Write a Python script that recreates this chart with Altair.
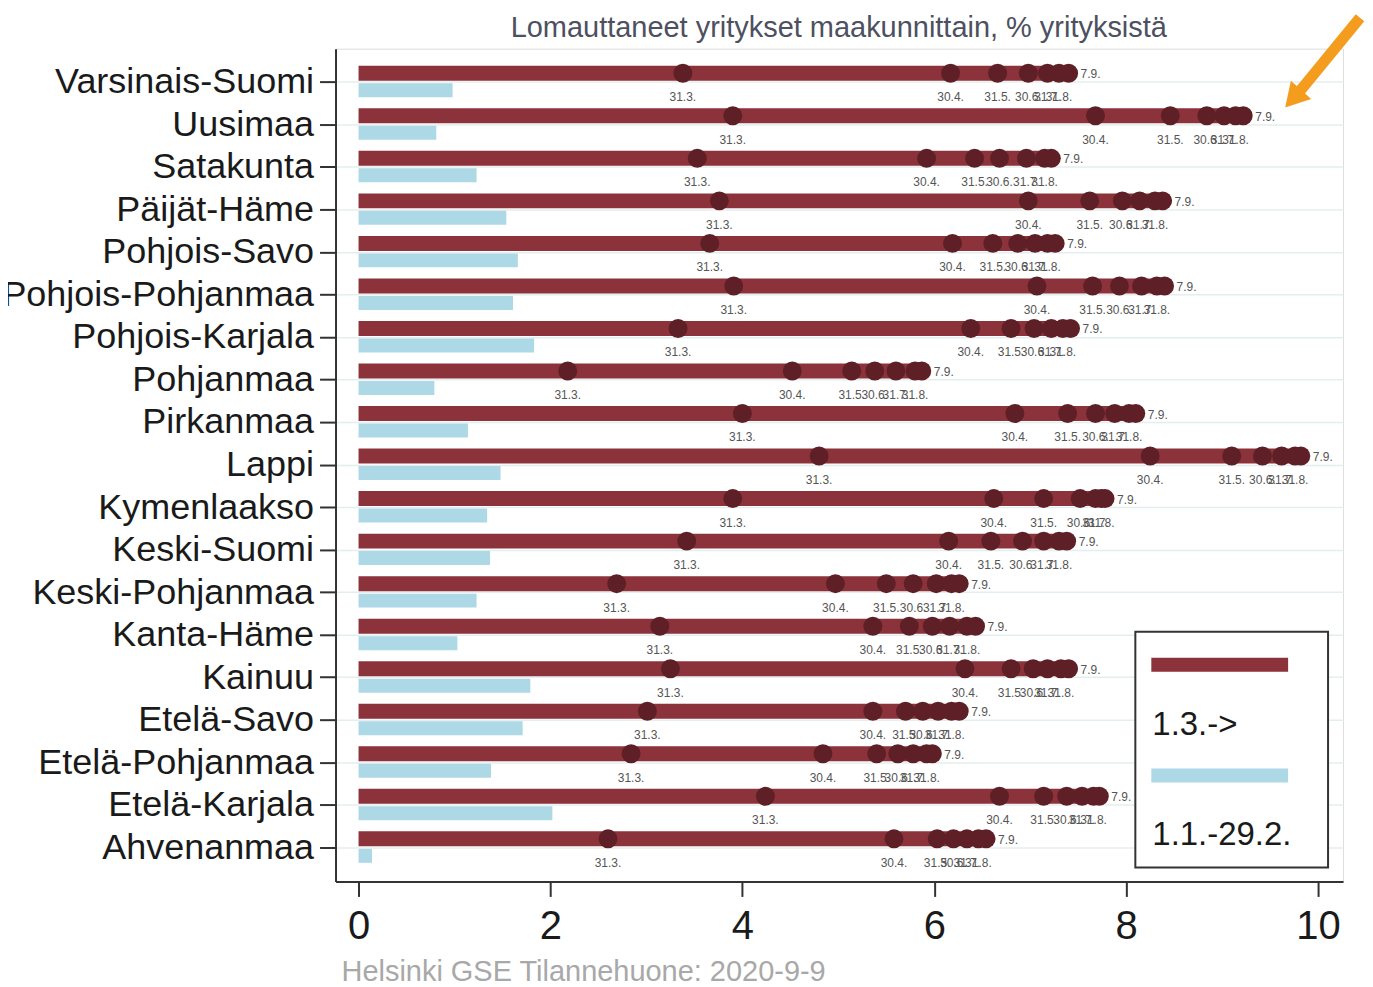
import altair as alt
import pandas as pd

regions = ["Varsinais-Suomi", "Uusimaa", "Satakunta", "Päijät-Häme", "Pohjois-Savo",
           "Pohjois-Pohjanmaa", "Pohjois-Karjala", "Pohjanmaa", "Pirkanmaa", "Lappi",
           "Kymenlaakso", "Keski-Suomi", "Keski-Pohjanmaa", "Kanta-Häme", "Kainuu",
           "Etelä-Savo", "Etelä-Pohjanmaa", "Etelä-Karjala", "Ahvenanmaa"]

dates = ["31.3.", "30.4.", "31.5.", "30.6.", "31.7.", "31.8.", "7.9."]

v_31_3 = [3.38, 3.90, 3.53, 3.76, 3.66, 3.91, 3.33, 2.18, 4.00, 4.80,
          3.90, 3.42, 2.69, 3.14, 3.25, 3.01, 2.84, 4.24, 2.60]
v_30_4 = [6.17, 7.68, 5.92, 6.98, 6.19, 7.07, 6.38, 4.52, 6.84, 8.25,
          6.62, 6.15, 4.97, 5.36, 6.32, 5.36, 4.84, 6.68, 5.58]
v_31_5 = [6.66, 8.46, 6.42, 7.62, 6.61, 7.65, 6.80, 5.14, 7.39, 9.10,
          7.14, 6.59, 5.50, 5.74, 6.80, 5.70, 5.40, 7.14, 6.03]
v_30_6 = [6.98, 8.84, 6.68, 7.96, 6.87, 7.93, 7.04, 5.38, 7.68, 9.42,
          7.52, 6.92, 5.78, 5.98, 7.03, 5.88, 5.62, 7.38, 6.20]
v_31_7 = [7.18, 9.02, 6.96, 8.14, 7.05, 8.16, 7.22, 5.60, 7.88, 9.62,
          7.68, 7.14, 6.02, 6.16, 7.18, 6.04, 5.78, 7.54, 6.34]
v_31_8 = [7.30, 9.14, 7.15, 8.30, 7.18, 8.32, 7.34, 5.80, 8.03, 9.76,
          7.74, 7.30, 6.18, 6.34, 7.32, 6.18, 5.92, 7.66, 6.46]
v_7_9 = [7.40, 9.22, 7.22, 8.38, 7.26, 8.40, 7.42, 5.87, 8.10, 9.82,
         7.78, 7.38, 6.26, 6.43, 7.40, 6.26, 5.98, 7.72, 6.54]
v_before = [0.98, 0.81, 1.23, 1.54, 1.66, 1.61, 1.83, 0.79, 1.14, 1.48,
            1.34, 1.37, 1.23, 1.03, 1.79, 1.71, 1.38, 2.02, 0.14]

x_ticks = [0, 2, 4, 6, 8, 10]
title_text = "Lomauttaneet yritykset maakunnittain, % yrityksistä"
footer_text = "Helsinki GSE Tilannehuone: 2020-9-9"
legend_labels = ["1.3.->", "1.1.-29.2."]

series = [v_31_3, v_30_4, v_31_5, v_30_6, v_31_7, v_31_8, v_7_9]
rows = []
for d, vals in zip(dates, series):
    for r, v in zip(regions, vals):
        rows.append({"region": r, "date": d, "value": v})
points = pd.DataFrame(rows)
bars = pd.DataFrame({"region": regions, "final": v_7_9, "before": v_before})

RED = "#8C323A"
DOT = "#5E2026"
BLUE = "#ADD8E6"
FONT = "Liberation Sans"

W, H = 1009, 834

xs = alt.Scale(domain=[-0.24, 10.26], nice=False, zero=False)
x_axis = alt.Axis(values=x_ticks, format="d", title=None, grid=False, labelFontSize=40,
                  labelFont=FONT, labelColor="#1a1a1a", tickSize=15, tickWidth=2,
                  tickColor="#333", domainColor="#333", domainWidth=2, labelPadding=10,
                  labelFlush=False)
y_axis = alt.Axis(title=None, labelFontSize=36, labelFont=FONT, labelColor="#1a1a1a",
                  tickSize=16, tickWidth=2, tickColor="#333", domainColor="#333",
                  domainWidth=2, labelPadding=6, grid=True, gridColor="#E4EEEE",
                  gridWidth=1.5, bandPosition=0.5, labelLimit=400)
ys = alt.Scale(paddingInner=0, paddingOuter=0.29)
Y = alt.Y("region:N", sort=regions, scale=ys, axis=y_axis)

base_b = alt.Chart(bars)
red_bar = base_b.mark_bar(color=RED, size=15, yOffset=-9).encode(
    x=alt.X("final:Q", scale=xs, axis=x_axis), x2=alt.datum(0), y=Y)
blue_bar = base_b.mark_bar(color=BLUE, size=14, yOffset=8).encode(
    x=alt.X("before:Q", scale=xs), x2=alt.datum(0), y=Y)

base_p = alt.Chart(points)
dots = base_p.mark_circle(size=360, color=DOT, opacity=1, yOffset=-9).encode(
    x=alt.X("value:Q", scale=xs), y=Y)
date_lbl = base_p.transform_filter(alt.datum.date != "7.9.").mark_text(
    fontSize=12, font=FONT, color="#555", yOffset=15, baseline="middle").encode(
    x=alt.X("value:Q", scale=xs), y=Y, text="date:N")
final_lbl = base_p.transform_filter(alt.datum.date == "7.9.").mark_text(
    fontSize=12, font=FONT, color="#555", yOffset=-8, dx=12, align="left",
    baseline="middle").encode(x=alt.X("value:Q", scale=xs), y=Y, text="date:N")

one = alt.Chart(pd.DataFrame({"k": [0]}))
title = one.mark_text(text=title_text, fontSize=29, font=FONT, color="#4d5060",
                      align="center", baseline="middle").encode(
    x=alt.value(504), y=alt.value(-21))
footer = one.mark_text(text=footer_text, fontSize=29, font=FONT, color="#a8a8a8",
                       align="left", baseline="middle").encode(
    x=alt.value(6), y=alt.value(925))

leg_box = one.mark_rect(fill="white", stroke="#333", strokeWidth=2).encode(
    x=alt.value(801), x2=alt.value(994), y=alt.value(584), y2=alt.value(820))
leg_red = one.mark_rule(color=RED, strokeWidth=14).encode(
    x=alt.value(817), x2=alt.value(954), y=alt.value(617))
leg_blue = one.mark_rule(color=BLUE, strokeWidth=14).encode(
    x=alt.value(817), x2=alt.value(954), y=alt.value(728))
leg_t1 = one.mark_text(text=legend_labels[0], fontSize=33, font=FONT, color="#1a1a1a",
                       align="left", baseline="middle").encode(
    x=alt.value(818), y=alt.value(677))
leg_t2 = one.mark_text(text=legend_labels[1], fontSize=33, font=FONT, color="#1a1a1a",
                       align="left", baseline="middle").encode(
    x=alt.value(818), y=alt.value(788))

ORANGE = "#F39C1E"
arrow_line = one.mark_rule(color=ORANGE, strokeWidth=11).encode(
    x=alt.value(1026), y=alt.value(-31), x2=alt.value(963), y2=alt.value(46))
arrow_head = one.mark_point(shape="triangle-up", filled=True, color=ORANGE, opacity=1,
                            size=750, angle=222).encode(
    x=alt.value(959), y=alt.value(50))

chart = alt.layer(
    red_bar, blue_bar, dots, date_lbl, final_lbl,
    leg_box, leg_red, leg_blue, leg_t1, leg_t2,
    title, footer, arrow_line, arrow_head
).properties(
    width=W, height=H,
    autosize=alt.AutoSizeParams(type="none"),
    padding={"left": 328, "top": 40, "right": 22, "bottom": 104}
).configure_view(stroke=None).configure(background="white")

chart.save("out.html", embed_options={"renderer": "svg", "actions": False})
